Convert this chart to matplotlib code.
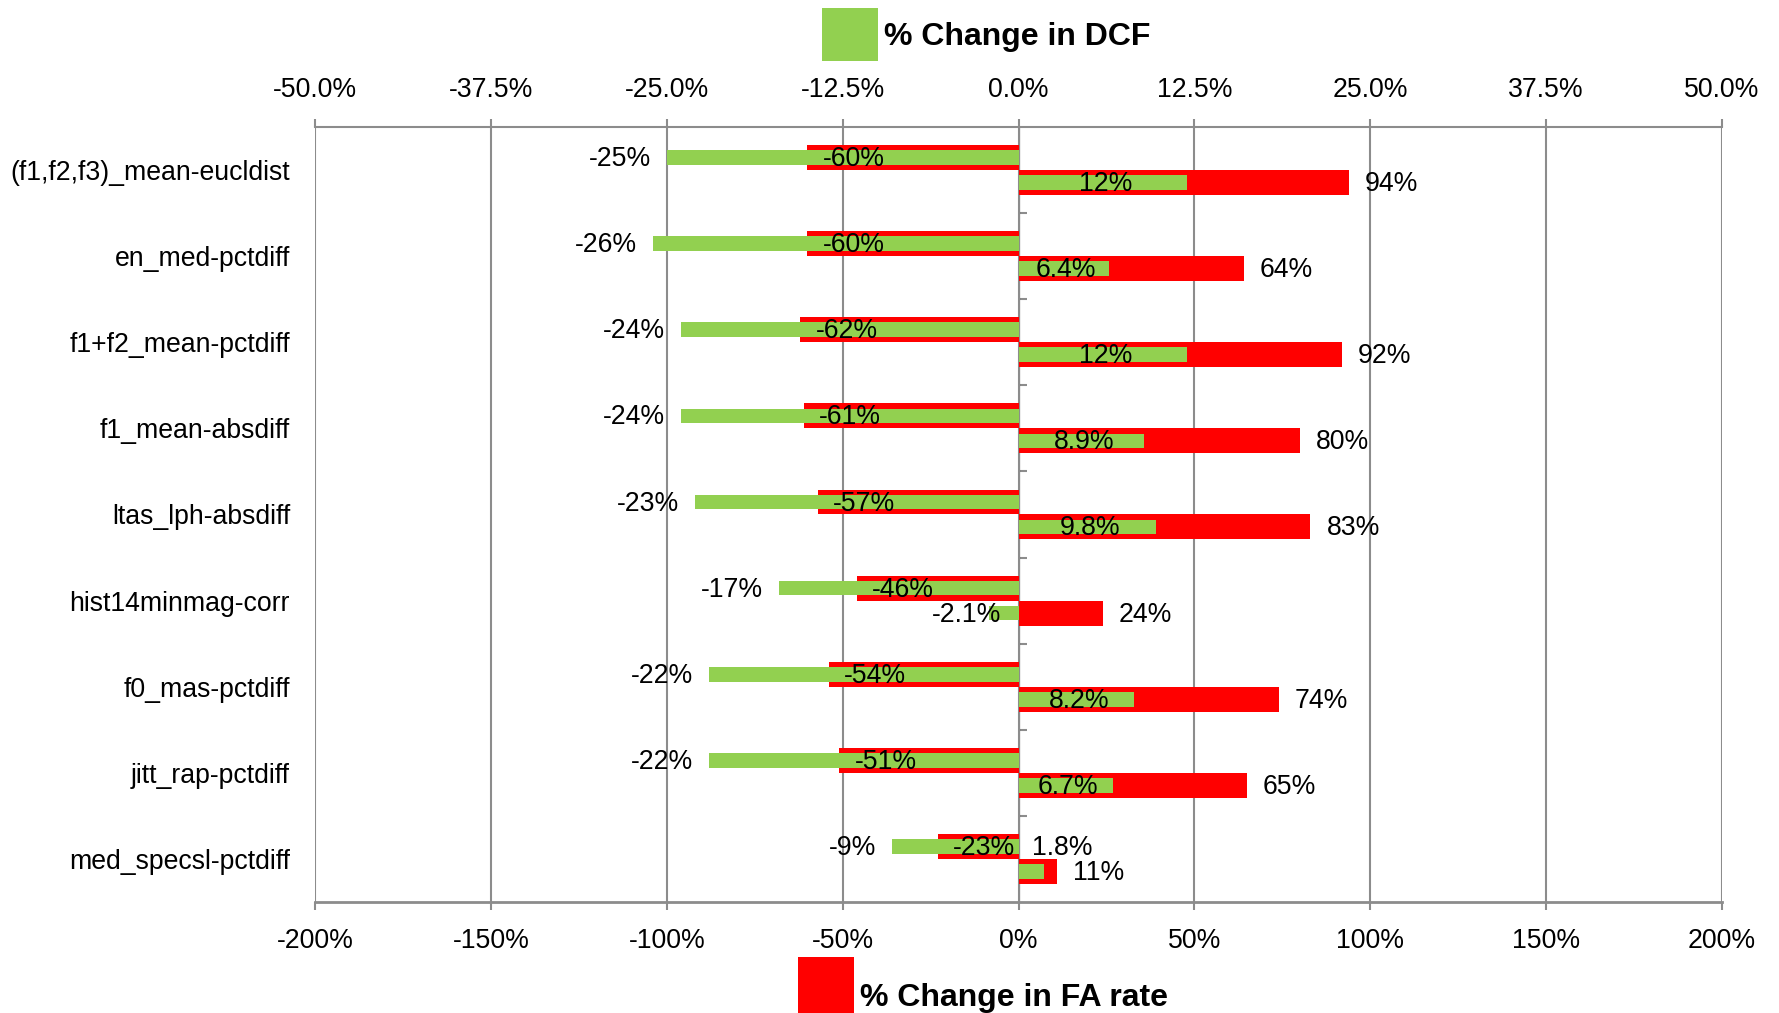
import numpy as np
import matplotlib.pyplot as plt
from matplotlib.ticker import FuncFormatter

plt.rcParams['font.family'] = ['Liberation Sans', 'DejaVu Sans']

features = ['(f1,f2,f3)_mean-eucldist', 'en_med-pctdiff', 'f1+f2_mean-pctdiff',
            'f1_mean-absdiff', 'ltas_lph-absdiff', 'hist14minmag-corr',
            'f0_mas-pctdiff', 'jitt_rap-pctdiff', 'med_specsl-pctdiff']

# % change in false-alarm rate (bottom axis)
fa_down = [-60, -60, -62, -61, -57, -46, -54, -51, -23]
fa_up = [94, 64, 92, 80, 83, 24, 74, 65, 11]

# % change in DCF (top axis)
dcf_down = [-25, -26, -24, -24, -23, -17, -22, -22, -9]
dcf_up = [12, 6.4, 12, 8.9, 9.8, -2.1, 8.2, 6.7, 1.8]

fa_ticks = [-200, -150, -100, -50, 0, 50, 100, 150, 200]
dcf_ticks = [-50, -37.5, -25, -12.5, 0, 12.5, 25, 37.5, 50]

RED = '#ff0000'
GREEN = '#92d050'
GRAY = '#8c8c8c'
FS = 19.2

y = np.arange(len(features))
off = 0.145
red_h = 0.29
green_h = 0.17

fig = plt.figure(figsize=(17.79, 10.13), dpi=100)
ax = fig.add_axes([315 / 1779, 1 - 902 / 1013, 1407 / 1779, 775 / 1013])

red_bars = ax.barh(y - off, fa_down, height=red_h, color=RED, zorder=2)
ax.barh(y + off, fa_up, height=red_h, color=RED, zorder=2)
ax.set_xlim(-200, 200)
ax.set_ylim(len(features) - 0.5, -0.5)
ax.set_xticks(fa_ticks)
ax.xaxis.set_major_formatter(FuncFormatter(lambda v, p: f'{v:.0f}%'))
ax.grid(axis='x', color=GRAY, lw=1.5, zorder=0)
ax.set_axisbelow(True)
ax.set_yticks(y)
ax.set_yticklabels(features, fontsize=FS)
ax.tick_params(axis='y', length=0, pad=18)
ax.tick_params(axis='x', direction='out', length=6, width=1.5, color=GRAY,
               labelsize=FS, pad=13)
for s in ['left', 'right', 'top']:
    ax.spines[s].set_visible(False)
ax.spines['bottom'].set_color(GRAY)
ax.spines['bottom'].set_linewidth(2)

ax2 = ax.twiny()
green_bars = ax2.barh(y - off, dcf_down, height=green_h, color=GREEN, zorder=3)
ax2.barh(y + off, dcf_up, height=green_h, color=GREEN, zorder=3)
ax2.set_xlim(-50, 50)
ax2.set_xticks(dcf_ticks)
ax2.xaxis.set_major_formatter(FuncFormatter(lambda v, p: f'{v:.1f}%'))
ax2.tick_params(axis='x', direction='out', length=6, width=1.5, color=GRAY,
                labelsize=FS, pad=11)
for s in ['left', 'right', 'bottom']:
    ax2.spines[s].set_visible(False)
ax2.spines['top'].set_color(GRAY)
ax2.spines['top'].set_linewidth(1.5)

# short category ticks on the zero line
zero_ax = ax.secondary_yaxis(0.5)
zero_ax.set_yticks(np.arange(0.5, len(features) - 1, 1.0))
zero_ax.set_yticklabels([])
zero_ax.tick_params(length=6, width=1.5, color=GRAY)
zero_ax.spines['left'].set_visible(False)


def fmt(v):
    return f'{v:g}%'


# all labels go on the top axes so they sit above both bar sets
lab = dict(fontsize=FS, va='center', textcoords='offset points', zorder=5)
fa_xy = dict(xycoords=ax.transData)
dy = 1.5 / 86
for i in range(len(features)):
    yn = i - off + dy
    yp = i + off + dy
    # DCF decrease: outside end of green bar
    ax2.annotate(fmt(dcf_down[i]), (dcf_down[i], yn), xytext=(-11.5, 0),
                 ha='right', **lab)
    # FA decrease: inside end of red bar
    ax2.annotate(fmt(fa_down[i]), (fa_down[i], yn), xytext=(11, 0),
                 ha='left', **fa_xy, **lab)
    # FA increase: outside end of red bar
    ax2.annotate(fmt(fa_up[i]), (fa_up[i], yp), xytext=(11.5, 0),
                 ha='left', **fa_xy, **lab)
    # DCF "increase": centred in green bar, with a couple of exceptions
    v = dcf_up[i]
    if v < 0:
        ax2.annotate(fmt(v), (v, yp), xytext=(9, 0), ha='right', **lab)
    elif v < 3:
        ax2.annotate(fmt(v), (0, yn), xytext=(10, 0), ha='left', **lab)
    else:
        ax2.annotate(fmt(v), (v / 2, yp), xytext=(2, 0), ha='center', **lab)

leg_kw = dict(frameon=False, borderpad=0, borderaxespad=0, handletextpad=0.2,
              prop=dict(size=23, weight='bold'), handlelength=1.75)
fig.legend([green_bars], ['% Change in DCF'], loc='upper left',
           bbox_to_anchor=(822 / 1779, 1 - 8 / 1013), handleheight=2.18, **leg_kw)
fig.legend([red_bars], ['% Change in FA rate'], loc='upper left',
           bbox_to_anchor=(798 / 1779, 1 - 957 / 1013), handleheight=3.48, **leg_kw)

fig.savefig('out.png', dpi=100)
